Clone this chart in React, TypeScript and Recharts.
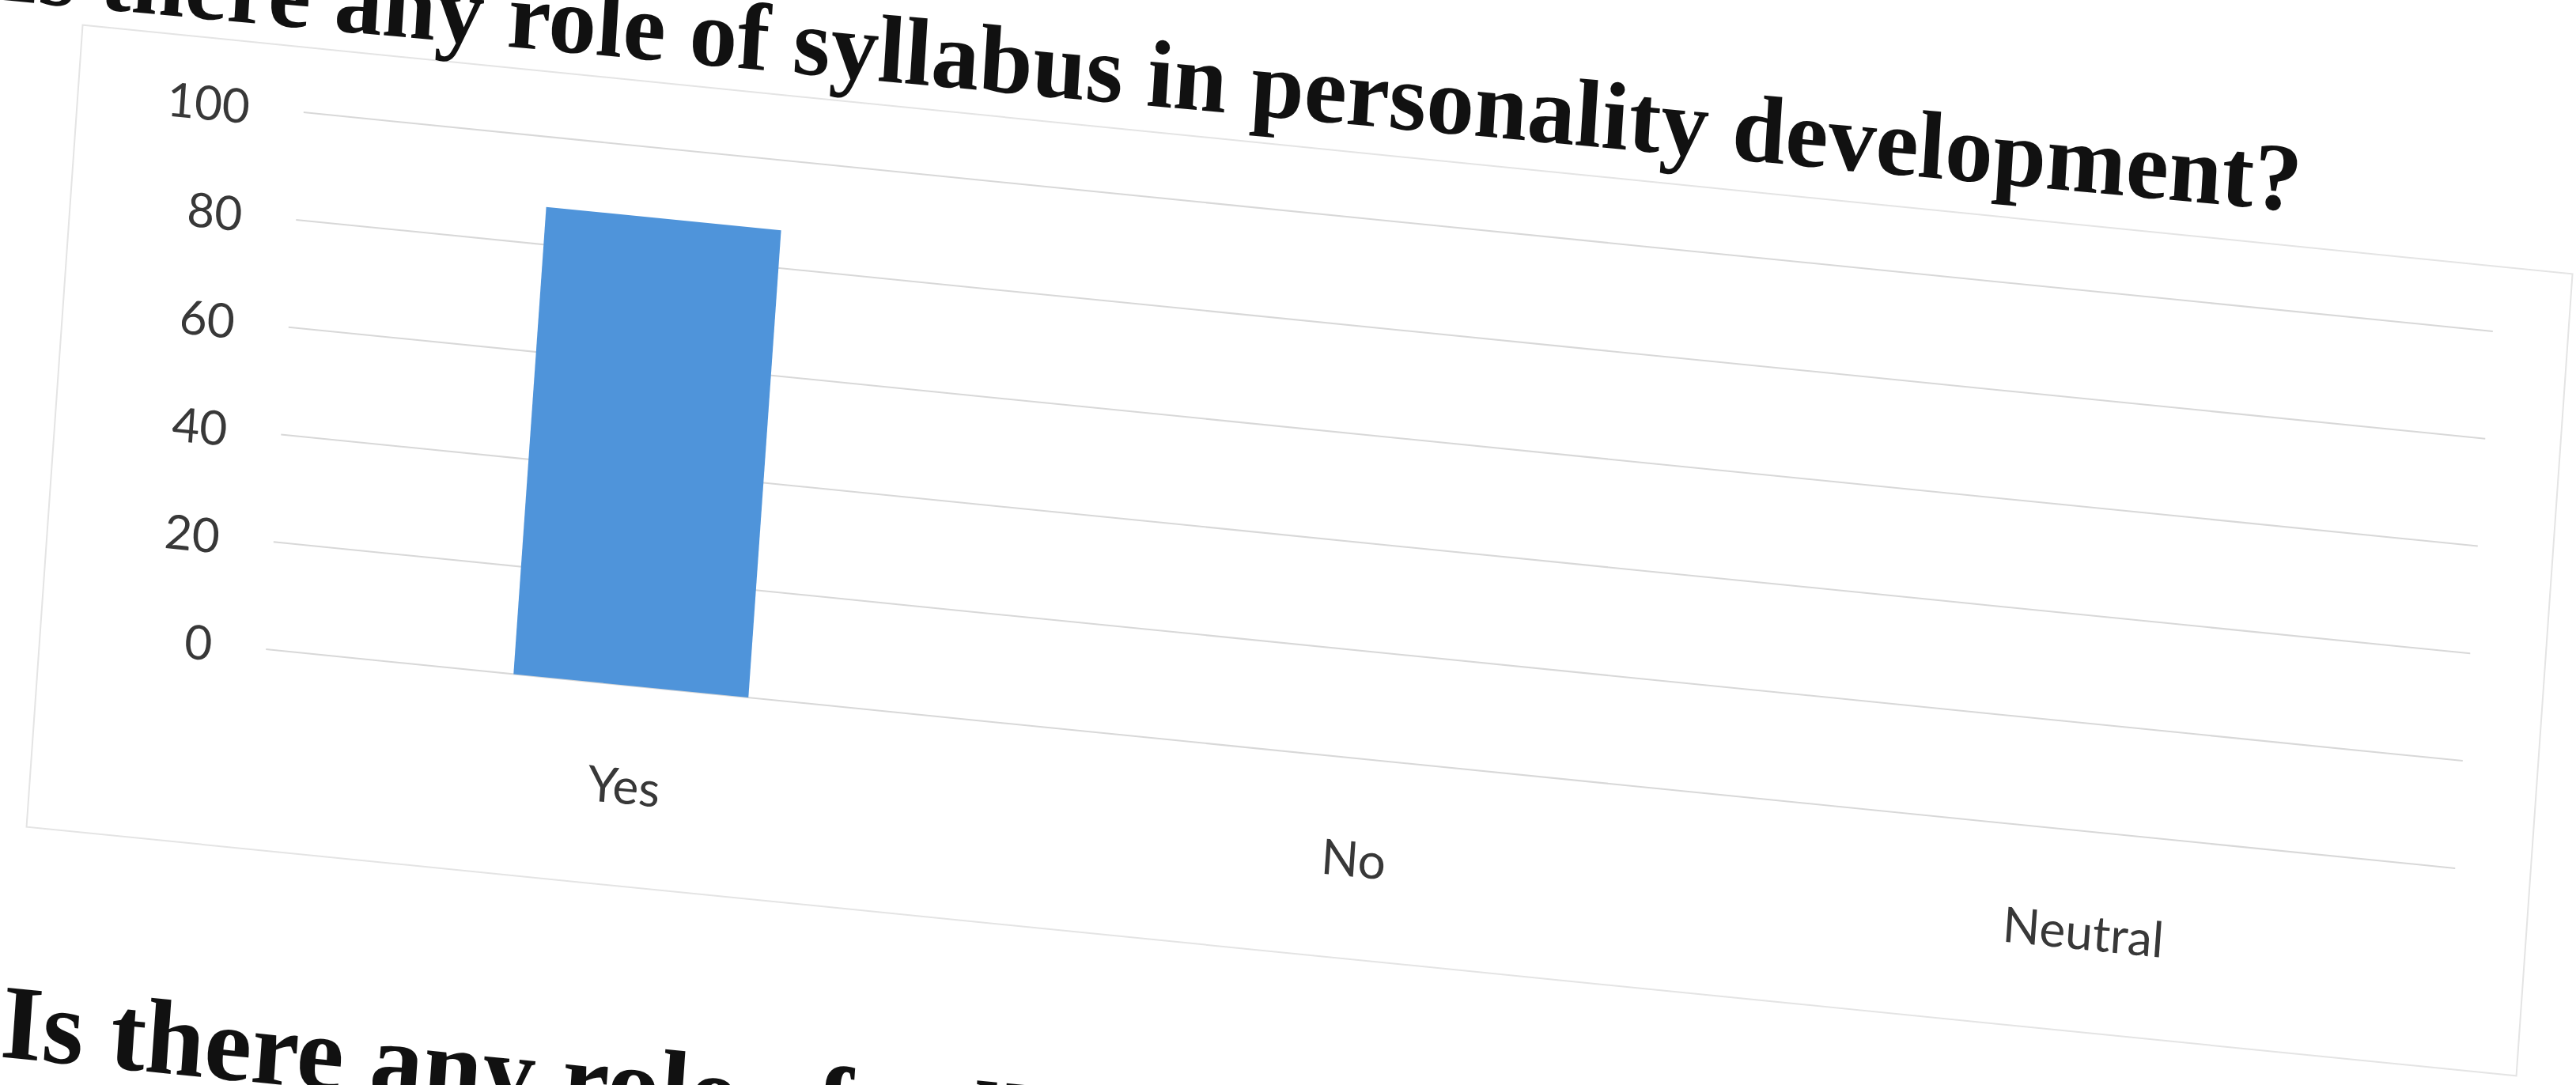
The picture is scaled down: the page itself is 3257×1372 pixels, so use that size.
import { BarChart, Bar, XAxis, YAxis, CartesianGrid } from "recharts";

// values
const categories = ["Yes", "No", "Neutral"];
const responses = [87, 0, 0];
const yTicks = [0, 20, 40, 60, 80, 100];
const title = "Is there any role of syllabus in personality development?";
const nextHeading = "Is there any role of syllabus in personality development?";

const BAR_COLOR = "#4f94da";
const GRID = "#d8d8d8";
const LABEL = "#383838";

const data = categories.map((c, i) => ({ category: c, value: responses[i] }));

export default function App() {
  return (
    <div
      style={{
        position: "fixed",
        left: 0,
        top: 0,
        width: 3257,
        height: 1372,
        overflow: "hidden",
        background: "#fff",
      }}
    >
      {/* the photo is tilted, so the whole page is sheared a little */}
      <div
        style={{
          position: "absolute",
          left: 0,
          top: 0,
          width: 3300,
          height: 1400,
          transform: "matrix(1, 0.1, -0.07, 1, 0, 0)",
          transformOrigin: "0 0",
        }}
      >
        <div
          style={{
            position: "absolute",
            left: 105,
            top: 20,
            width: 3150,
            height: 1016,
            border: "2px solid #e4e4e4",
            boxSizing: "border-box",
          }}
        />
        <div
          style={{
            position: "absolute",
            left: 0,
            top: 0,
            width: 3257,
            height: 1040,
          }}
        >
          <BarChart
            width={3257}
            height={1040}
            data={data}
            margin={{ top: 103, right: 98, left: 0, bottom: 0 }}
          >
            <CartesianGrid vertical={false} stroke={GRID} strokeWidth={2} />
            <XAxis
              dataKey="category"
              height={258}
              axisLine={false}
              tickLine={false}
              tickSize={0}
              tickMargin={105}
              tick={{ fontSize: 62, fill: LABEL, fontFamily: "Lato" }}
            />
            <YAxis
              width={391}
              domain={[0, 100]}
              ticks={yTicks}
              axisLine={false}
              tickLine={false}
              tickSize={0}
              tickMargin={68}
              tick={{ fontSize: 60, fill: LABEL, fontFamily: "Lato" }}
            />
            <Bar dataKey="value" fill={BAR_COLOR} barSize={297} isAnimationActive={false} />
          </BarChart>
        </div>
        <div
          style={{
            position: "absolute",
            left: 0,
            top: -124,
            whiteSpace: "nowrap",
            fontFamily: "'Liberation Serif', 'Times New Roman', serif",
            fontWeight: "bold",
            fontSize: 121,
            lineHeight: 1,
            color: "#111",
            transform: "rotate(-0.45deg)",
            transformOrigin: "right bottom",
          }}
        >
          {title}
        </div>
        <div
          style={{
            position: "absolute",
            left: 92,
            top: 1215,
            whiteSpace: "nowrap",
            fontFamily: "'Liberation Serif', 'Times New Roman', serif",
            fontWeight: "bold",
            fontSize: 134,
            lineHeight: 1,
            color: "#111",
          }}
        >
          {nextHeading}
        </div>
      </div>
    </div>
  );
}
